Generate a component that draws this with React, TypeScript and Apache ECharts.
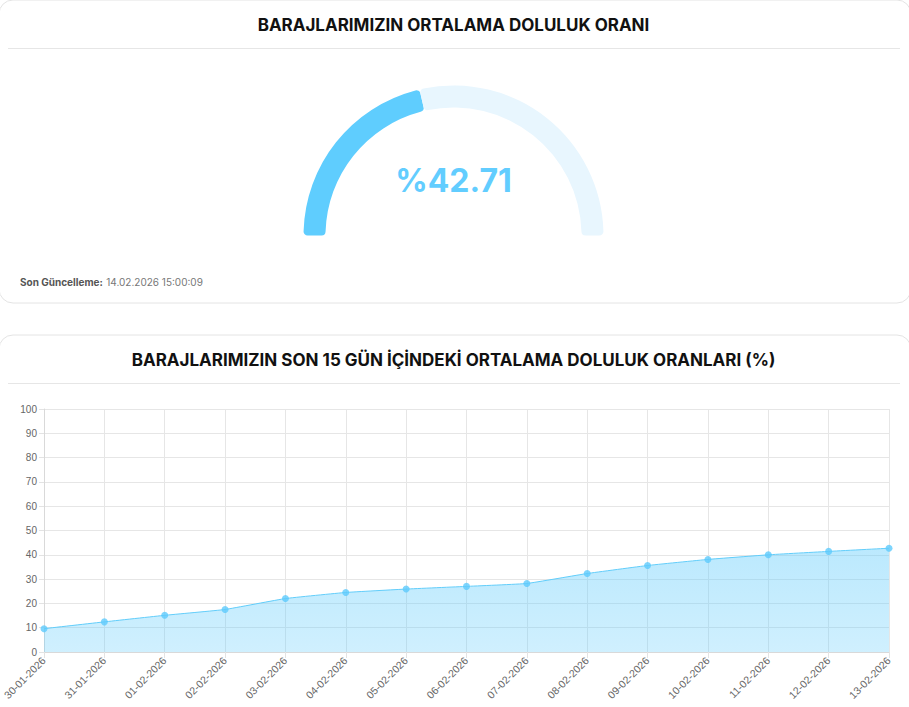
import React, { useEffect, useRef } from "react";
import * as echarts from "echarts";

const gaugeTitle = "BARAJLARIMIZIN ORTALAMA DOLULUK ORANI";
const chartTitle = "BARAJLARIMIZIN SON 15 GÜN İÇİNDEKİ ORTALAMA DOLULUK ORANLARI (%)";
const gaugeValue = [42.71];
const updateLabel = "Son Güncelleme:";
const updateTime = "14.02.2026 15:00:09";

const dates = [
  "30-01-2026", "31-01-2026", "01-02-2026", "02-02-2026", "03-02-2026",
  "04-02-2026", "05-02-2026", "06-02-2026", "07-02-2026", "08-02-2026",
  "09-02-2026", "10-02-2026", "11-02-2026", "12-02-2026", "13-02-2026",
];
const fillRates = [9.6, 12.4, 15.1, 17.5, 22.0, 24.5, 25.9, 27.0, 28.2, 32.3, 35.6, 38.1, 40.0, 41.4, 42.71];

const W = 909;
const H = 707;

export default function App() {
  const ref = useRef<HTMLDivElement>(null);
  useEffect(() => {
    if (!ref.current) return;
    const chart = echarts.init(ref.current, null, { renderer: "svg" });
    const v = gaugeValue[0];
    const titleFont = "Inter, 'Noto Sans', sans-serif";
    chart.setOption({
      animation: false,
      graphic: [
        {
          type: "rect",
          z: -10,
          shape: { x: -1, y: 0, width: 912, height: 303, r: 14 },
          style: { fill: "#fff", stroke: "#e4e4e4", lineWidth: 1 },
        },
        {
          type: "rect",
          z: -10,
          shape: { x: -1, y: 335, width: 912, height: 400, r: 14 },
          style: { fill: "#fff", stroke: "#e4e4e4", lineWidth: 1 },
        },
        {
          type: "line",
          shape: { x1: 8, y1: 48.5, x2: 900, y2: 48.5 },
          style: { stroke: "#e6e6e6", lineWidth: 1 },
        },
        {
          type: "line",
          shape: { x1: 8, y1: 383.5, x2: 900, y2: 383.5 },
          style: { stroke: "#e6e6e6", lineWidth: 1 },
        },
        {
          type: "text",
          x: 453.5,
          y: 25,
          style: {
            text: gaugeTitle,
            fill: "#111",
            font: `700 17px ${titleFont}`,
            align: "center",
            verticalAlign: "middle",
          },
        },
        {
          type: "text",
          x: 453.5,
          y: 360,
          style: {
            text: chartTitle,
            fill: "#111",
            font: `700 17px ${titleFont}`,
            align: "center",
            verticalAlign: "middle",
          },
        },
        {
          type: "text",
          x: 453.5,
          y: 180,
          style: {
            text: "%" + v.toFixed(2),
            fill: "#62cdff",
            font: `700 32px ${titleFont}`,
            align: "center",
            verticalAlign: "middle",
          },
        },
        {
          type: "text",
          x: 20,
          y: 282,
          style: {
            text: `{b|${updateLabel}} {r|${updateTime}}`,
            verticalAlign: "middle",
            rich: {
              b: { font: `700 10px ${titleFont}`, fill: "#555" },
              r: { font: `400 10px ${titleFont}`, fill: "#777" },
            },
          },
        },
      ],
      grid: { left: 42, right: 20, top: 409, bottom: 55, containLabel: false },
      xAxis: {
        type: "category",
        data: dates,
        boundaryGap: false,
        axisLine: { show: true, lineStyle: { color: "#d9d9d9" } },
        axisTick: { show: true, length: 6, lineStyle: { color: "#e3e3e3" }, alignWithLabel: true },
        splitLine: { show: true, lineStyle: { color: "#e6e6e6" } },
        axisLabel: {
          rotate: 45,
          color: "#666",
          fontSize: 10.5,
          fontFamily: "'Liberation Sans', Arial, sans-serif",
          margin: 7,
          interval: 0,
        },
      },
      yAxis: {
        type: "value",
        min: 0,
        max: 100,
        interval: 10,
        axisLine: { show: true, lineStyle: { color: "#d9d9d9" } },
        axisTick: { show: true, length: 5, lineStyle: { color: "#e3e3e3" } },
        splitLine: { show: true, lineStyle: { color: "#e6e6e6" } },
        axisLabel: {
          color: "#666",
          fontSize: 10,
          fontFamily: "'Liberation Sans', Arial, sans-serif",
          margin: 7,
        },
      },
      series: [
        {
          type: "pie",
          center: [453.5, 235.5],
          radius: [128, 150],
          startAngle: 180,
          clockwise: true,
          silent: true,
          label: { show: false },
          labelLine: { show: false },
          itemStyle: { borderRadius: 4, borderWidth: 0 },
          data: [
            { value: v, itemStyle: { color: "#5fcdfe" } },
            { value: 100 - v, itemStyle: { color: "#e8f6fe" } },
            { value: 100, itemStyle: { color: "rgba(0,0,0,0)" } },
          ],
        },
        {
          type: "line",
          data: fillRates,
          smooth: 0.1,
          symbol: "circle",
          symbolSize: 7,
          itemStyle: { color: "rgba(94,203,252,0.8)" },
          lineStyle: { color: "#62cdfa", width: 1 },
          areaStyle: {
            color: new echarts.graphic.LinearGradient(0, 0, 0, 1, [
              { offset: 0, color: "rgba(94,203,252,0.6)" },
              { offset: 1, color: "rgba(94,203,252,0.42)" },
            ]),
          },
        },
      ],
    });
    return () => chart.dispose();
  }, []);
  return (
    <div
      ref={ref}
      style={{ position: "fixed", left: 0, top: 0, width: W, height: H, background: "#fff" }}
    />
  );
}
